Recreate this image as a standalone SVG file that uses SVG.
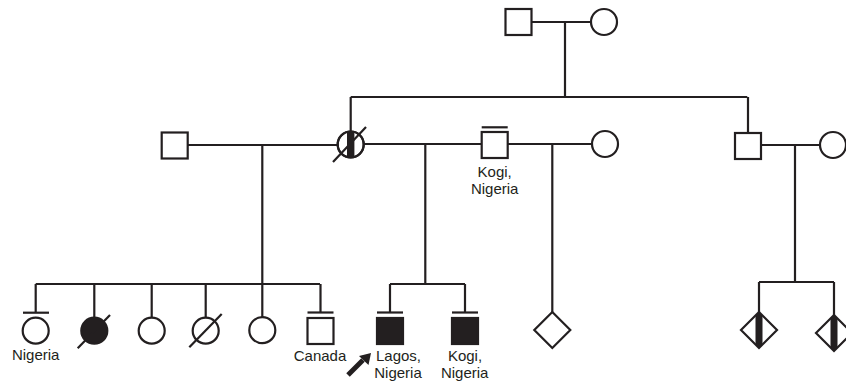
<svg xmlns="http://www.w3.org/2000/svg" width="846" height="389" viewBox="0 0 846 389">
<style>
.ln{stroke:#231f20;stroke-width:2.2;fill:none}
.sh{stroke:#231f20;stroke-width:2.2;fill:#fff}
.fl{stroke:#231f20;stroke-width:2.2;fill:#231f20}
.bk{fill:#231f20;stroke:none}
.tx{font-family:"Liberation Sans",Arial,sans-serif;font-size:15px;fill:#231f20;text-anchor:middle}
</style>
<rect width="846" height="389" fill="#fff"/>
<g id="connectors">
<path class="ln" d="M531.5 22H591M565 22V97M350.7 97H747.3M350.7 97V131.5M748 97V133"/>
<path class="ln" d="M187.7 145H337.7M262.3 145V284M363.7 144H481.7M425.3 144V284M507.7 144H592M552.3 144V312M761 145H820M795 145V282M759 282H834M759 282V312M834 282V315"/>
<path class="ln" d="M35.7 284H320M35.7 284V312.7M94.3 284V317.5M151.7 284V317.5M205.7 284V317.5M262.3 284V317M320.5 284V312.5M390 284H465M390 284V312.5M465 284V312.5"/>
</g>
<g id="I-1"><rect class="sh" x="505.5" y="9" width="26" height="26"/></g>
<g id="I-2"><circle class="sh" cx="604" cy="22" r="13"/></g>
<g id="II-1"><rect class="sh" x="161.7" y="132.5" width="26" height="26"/></g>
<g id="II-2"><circle class="sh" cx="350.7" cy="144.5" r="13"/><path class="bk" d="M347 132V157A13 13 0 0 0 354.4 157V132A13 13 0 0 0 347 132Z"/><circle class="ln" cx="350.7" cy="144.5" r="13"/><path class="ln" d="M333 162L366 127"/></g>
<g id="II-3"><rect class="sh" x="481.7" y="132" width="26" height="26"/><path class="ln" d="M481.7 127.3H507.7"/><text class="tx" x="494.7" y="176.7">Kogi,</text><text class="tx" x="494.7" y="194">Nigeria</text></g>
<g id="II-4"><circle class="sh" cx="605" cy="144" r="13"/></g>
<g id="II-5"><rect class="sh" x="735" y="133" width="26" height="26"/></g>
<g id="II-6"><circle class="sh" cx="833" cy="145" r="13"/></g>
<g id="III-1"><path class="ln" d="M23 312.7H49"/><circle class="sh" cx="35.7" cy="330.7" r="13"/><text class="tx" x="35.7" y="360">Nigeria</text></g>
<g id="III-2"><circle class="fl" cx="94.3" cy="330.7" r="13"/><path class="ln" d="M77.7 348.3L110 315"/></g>
<g id="III-3"><circle class="sh" cx="151.7" cy="330.7" r="13"/></g>
<g id="III-4"><circle class="sh" cx="205.7" cy="330.7" r="13"/><path class="ln" d="M189.3 347.3L221.7 314"/></g>
<g id="III-5"><circle class="sh" cx="262.3" cy="330.2" r="13"/></g>
<g id="III-6"><path class="ln" d="M307.5 312.5H333.5"/><rect class="sh" x="307.5" y="318" width="26" height="26"/><text class="tx" x="320" y="361">Canada</text></g>
<g id="III-7"><path class="ln" d="M377 312.5H403"/><rect class="fl" x="377" y="318" width="26" height="26"/><text class="tx" x="398.5" y="361">Lagos,</text><text class="tx" x="398" y="378.3">Nigeria</text><path class="ln" d="M348 375L363 360" style="stroke-width:5"/><polygon class="bk" points="371,353 368.5,365 359,356"/></g>
<g id="III-8"><path class="ln" d="M452 312.5H478"/><rect class="fl" x="452" y="318" width="26" height="26"/><text class="tx" x="465" y="361">Kogi,</text><text class="tx" x="464.7" y="378.3">Nigeria</text></g>
<g id="III-9"><polygon class="sh" points="552.3,312 570.3,330 552.3,348 534.3,330"/></g>
<g id="III-10"><polygon class="sh" points="759,312 777,330 759,348 741,330"/><polygon class="bk" points="755.5,315.5 759,312 762.5,315.5 762.5,344.5 759,348 755.5,344.5"/></g>
<g id="III-11"><polygon class="sh" points="834,315 852,333 834,351 816,333"/><polygon class="bk" points="830.5,318.5 834,315 837.5,318.5 837.5,347.5 834,351 830.5,347.5"/></g>
</svg>
